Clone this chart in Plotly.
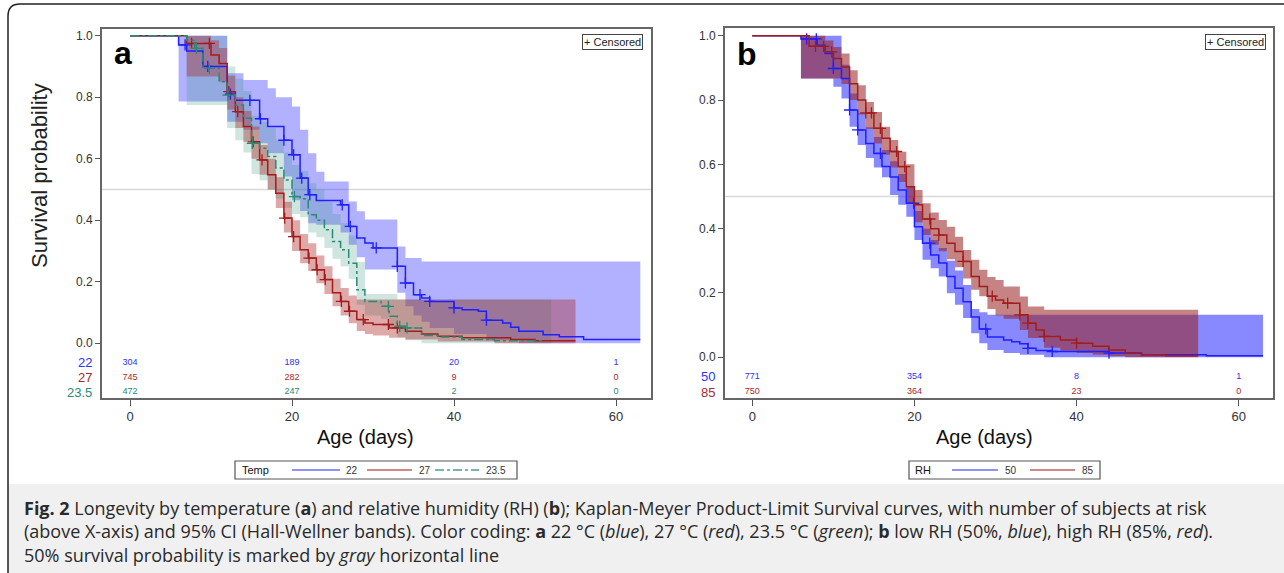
import plotly.graph_objects as go

W, H = 1284, 573

# ---------------- Panel a : temperature ----------------
temp_labels = ["22", "27", "23.5"]

days_t22 = [0, 6, 7, 9, 12, 13, 16, 17, 19, 20, 21, 22, 23, 26, 27, 28, 29, 30, 33, 34, 35, 36, 37, 40, 41, 43, 44, 46, 47, 48, 51, 53, 56, 63]
surv_t22 = [1.0, 0.97, 0.95, 0.90, 0.81, 0.79, 0.73, 0.705, 0.66, 0.613, 0.537, 0.483, 0.464, 0.45, 0.38, 0.342, 0.326, 0.31, 0.25, 0.196, 0.158, 0.147, 0.136, 0.115, 0.109, 0.104, 0.075, 0.066, 0.052, 0.039, 0.028, 0.021, 0.012, 0.012]
cens_t22 = [6.8, 9.6, 12.4, 14.8, 16.1, 19.0, 20.2, 21.2, 22.2, 26.2, 27.2, 30.4, 33.0, 34.0, 35.8, 37.0, 40.0, 44.0]
band_t22_days = [6, 12, 14, 16, 17, 18, 19, 20, 21, 22, 23, 24, 26, 27, 28, 29, 33, 34, 35, 36, 37, 40, 44, 48, 63]
band_t22_up = [1.0, 0.878, 0.856, 0.856, 0.829, 0.80, 0.80, 0.77, 0.694, 0.618, 0.558, 0.526, 0.526, 0.461, 0.429, 0.402, 0.315, 0.277, 0.277, 0.266, 0.266, 0.266, 0.266, 0.266, 0.266]
band_t22_lo = [0.786, 0.72, 0.694, 0.65, 0.618, 0.618, 0.542, 0.465, 0.43, 0.39, 0.385, 0.385, 0.36, 0.32, 0.28, 0.24, 0.164, 0.12, 0.09, 0.07, 0.05, 0.03, 0.01, 0.0, 0.0]

days_t27 = [0, 7, 10, 11, 12, 13, 14, 15, 16, 17, 18, 19, 20, 21, 22, 23, 24, 25, 26, 27, 28, 29, 30, 32, 34, 36, 38, 41, 47, 50, 55]
surv_t27 = [1.0, 0.975, 0.937, 0.91, 0.818, 0.753, 0.705, 0.655, 0.596, 0.548, 0.488, 0.407, 0.347, 0.304, 0.277, 0.239, 0.207, 0.164, 0.136, 0.104, 0.077, 0.066, 0.061, 0.05, 0.039, 0.03, 0.023, 0.018, 0.012, 0.008, 0.008]
cens_t27 = [7.6, 9.8, 12.2, 13.3, 15.2, 16.3, 19.1, 20.2, 22.1, 23.1, 24.1, 26.1, 27.1, 28.8, 31.9, 33.0]
band_t27_days = [7, 10, 11, 12, 13, 14, 15, 16, 17, 18, 19, 20, 21, 22, 23, 24, 25, 26, 27, 28, 29, 30, 32, 34, 38, 45, 55]
band_t27_up = [1.0, 0.985, 0.96, 0.87, 0.80, 0.755, 0.705, 0.645, 0.60, 0.54, 0.46, 0.40, 0.355, 0.325, 0.285, 0.25, 0.21, 0.18, 0.155, 0.142, 0.142, 0.142, 0.142, 0.142, 0.142, 0.142, 0.142]
band_t27_lo = [0.867, 0.867, 0.85, 0.76, 0.70, 0.655, 0.60, 0.548, 0.50, 0.44, 0.36, 0.30, 0.26, 0.235, 0.195, 0.16, 0.12, 0.09, 0.065, 0.04, 0.03, 0.025, 0.018, 0.012, 0.006, 0.0, 0.0]

days_t235 = [0, 7, 8, 9, 11, 12, 13, 14, 15, 16, 17, 18, 19, 20, 21, 22, 23, 24, 25, 26, 27, 28, 29, 31, 32, 33, 34, 36, 38, 41, 45, 51]
surv_t235 = [1.0, 0.985, 0.959, 0.894, 0.85, 0.807, 0.775, 0.732, 0.65, 0.634, 0.607, 0.57, 0.531, 0.477, 0.47, 0.418, 0.40, 0.369, 0.331, 0.304, 0.26, 0.174, 0.136, 0.12, 0.088, 0.055, 0.05, 0.025, 0.02, 0.012, 0.008, 0.008]
cens_t235 = [8.2, 9.8, 12.1, 15.1, 20.3, 31.9, 33.3, 34.2]
band_t235_days = [7, 12, 13, 14, 15, 16, 17, 18, 19, 20, 21, 22, 23, 24, 25, 26, 27, 28, 29, 31, 32, 33, 34, 36, 52]
band_t235_up = [1.0, 0.90, 0.86, 0.82, 0.74, 0.72, 0.70, 0.66, 0.62, 0.58, 0.56, 0.52, 0.50, 0.46, 0.42, 0.39, 0.35, 0.265, 0.16, 0.16, 0.16, 0.142, 0.142, 0.142, 0.142]
band_t235_lo = [0.775, 0.70, 0.66, 0.62, 0.55, 0.53, 0.50, 0.47, 0.44, 0.42, 0.41, 0.36, 0.345, 0.31, 0.275, 0.25, 0.21, 0.125, 0.09, 0.08, 0.05, 0.02, 0.01, 0.0, 0.0]

risk_days = [0, 20, 40, 60]
risk_t22 = [304, 189, 20, 1]
risk_t27 = [745, 282, 9, 0]
risk_t235 = [472, 247, 2, 0]

# ---------------- Panel b : relative humidity ----------------
rh_labels = ["50", "85"]

days_r50 = [0, 6, 8, 9, 10, 11, 12, 13, 14, 15, 16, 17, 18, 19, 20, 21, 22, 23, 24, 25, 26, 27, 28, 29, 31, 32, 33, 34, 35, 37, 44, 48, 56, 63]
surv_r50 = [1.0, 0.99, 0.97, 0.945, 0.898, 0.867, 0.769, 0.707, 0.665, 0.634, 0.593, 0.561, 0.52, 0.479, 0.406, 0.355, 0.318, 0.293, 0.251, 0.215, 0.173, 0.125, 0.088, 0.063, 0.054, 0.048, 0.042, 0.028, 0.021, 0.018, 0.013, 0.008, 0.005, 0.005]
cens_r50 = [6.7, 7.9, 10.0, 12.0, 13.0, 15.8, 19.9, 21.9, 28.8, 34.0, 37.0, 44.0]
band_r50_days = [6, 10, 11, 12, 13, 14, 15, 16, 17, 18, 19, 20, 21, 22, 23, 24, 25, 26, 27, 28, 29, 31, 33, 36, 63]
band_r50_up = [1.0, 1.0, 0.91, 0.82, 0.76, 0.715, 0.685, 0.645, 0.61, 0.57, 0.53, 0.455, 0.40, 0.365, 0.34, 0.30, 0.27, 0.225, 0.15, 0.14, 0.132, 0.132, 0.132, 0.132, 0.132]
band_r50_lo = [0.867, 0.841, 0.805, 0.717, 0.66, 0.62, 0.59, 0.56, 0.505, 0.474, 0.437, 0.365, 0.303, 0.277, 0.251, 0.199, 0.163, 0.122, 0.075, 0.044, 0.023, 0.013, 0.008, 0.0, 0.0]

days_r85 = [0, 7, 9, 10, 11, 12, 13, 14, 15, 16, 17, 18, 19, 20, 21, 22, 23, 24, 25, 26, 27, 28, 29, 30, 31, 33, 34, 35, 36, 38, 40, 42, 44, 46, 48, 51, 55]
surv_r85 = [1.0, 0.967, 0.95, 0.929, 0.903, 0.851, 0.80, 0.76, 0.712, 0.681, 0.64, 0.593, 0.53, 0.474, 0.43, 0.40, 0.38, 0.355, 0.329, 0.298, 0.251, 0.22, 0.19, 0.178, 0.168, 0.132, 0.106, 0.085, 0.065, 0.054, 0.044, 0.034, 0.023, 0.013, 0.008, 0.005, 0.005]
cens_r85 = [7.8, 8.8, 9.8, 14.0, 14.7, 15.8, 17.8, 18.8, 21.9, 23.0, 26.0, 29.6, 31.5, 33.0, 34.0, 36.0, 40.0]
band_r85_days = [6, 9, 10, 11, 12, 13, 14, 15, 16, 17, 18, 19, 20, 21, 22, 23, 24, 25, 26, 27, 28, 29, 30, 31, 33, 34, 36, 38, 40, 42, 44, 46, 55]
band_r85_up = [1.0, 0.985, 0.965, 0.945, 0.893, 0.846, 0.794, 0.763, 0.717, 0.676, 0.639, 0.60, 0.52, 0.479, 0.45, 0.427, 0.406, 0.375, 0.334, 0.303, 0.272, 0.25, 0.24, 0.22, 0.189, 0.158, 0.1475, 0.1475, 0.1475, 0.1475, 0.1475, 0.1475, 0.1475]
band_r85_lo = [0.867, 0.867, 0.867, 0.85, 0.80, 0.755, 0.71, 0.665, 0.63, 0.59, 0.545, 0.48, 0.42, 0.38, 0.35, 0.33, 0.305, 0.28, 0.245, 0.21, 0.19, 0.15, 0.13, 0.12, 0.085, 0.06, 0.03, 0.02, 0.013, 0.008, 0.004, 0.0, 0.0]

risk_r50 = [771, 354, 8, 1]
risk_r85 = [750, 364, 23, 0]

# ---------------- styling ----------------
BLUE = "#1f1fff"
RED = "#a31c1c"
GREEN = "#2a8a72"
TXT = "#333333"


def px_x(p):
    return p / W


def px_y(p):
    return 1 - p / H


def value_at(times, vals, t):
    v = vals[0]
    for ti, vi in zip(times, vals):
        if ti <= t:
            v = vi
        else:
            break
    return v


fig = go.Figure()


def add_band(days, lo, up, color, xa, ya):
    fig.add_trace(go.Scatter(x=days, y=lo, mode="lines", line=dict(width=0, shape="hv"),
                             showlegend=False, hoverinfo="skip", xaxis=xa, yaxis=ya))
    fig.add_trace(go.Scatter(x=days, y=up, mode="lines", line=dict(width=0, shape="hv"),
                             fill="tonexty", fillcolor=color, showlegend=False,
                             hoverinfo="skip", xaxis=xa, yaxis=ya))


def add_curve(days, surv, cens, color, name, dash, xa, ya):
    fig.add_trace(go.Scatter(x=days, y=surv, mode="lines",
                             line=dict(color=color, width=1.5, shape="hv", dash=dash),
                             name=name, showlegend=False, xaxis=xa, yaxis=ya))
    fig.add_trace(go.Scatter(x=cens, y=[value_at(days, surv, c) for c in cens], mode="markers",
                             marker=dict(symbol="cross-thin", size=8, line=dict(color=color, width=1.3)),
                             showlegend=False, hoverinfo="skip", xaxis=xa, yaxis=ya))


def add_risk(counts, yrow, color, xa, ya):
    fig.add_trace(go.Scatter(x=risk_days, y=[yrow] * len(counts), mode="text",
                             text=[str(c) for c in counts],
                             textfont=dict(size=9, color=color, family="Liberation Sans"),
                             showlegend=False, hoverinfo="skip", xaxis=xa, yaxis=ya))


# panel a bands
add_band(band_t22_days, band_t22_lo, band_t22_up, "rgba(60,60,255,0.40)", "x", "y")
add_band(band_t235_days, band_t235_lo, band_t235_up, "rgba(60,150,130,0.25)", "x", "y")
add_band(band_t27_days, band_t27_lo, band_t27_up, "rgba(170,40,40,0.40)", "x", "y")
# panel a curves
add_curve(days_t22, surv_t22, cens_t22, BLUE, temp_labels[0], "solid", "x", "y")
add_curve(days_t27, surv_t27, cens_t27, RED, temp_labels[1], "solid", "x", "y")
add_curve(days_t235, surv_t235, cens_t235, GREEN, temp_labels[2], "dashdot", "x", "y")
# risk rows a
ROWS_A = [-0.063, -0.112, -0.159]
add_risk(risk_t22, ROWS_A[0], "#3030ff", "x", "y")
add_risk(risk_t27, ROWS_A[1], "#a52a2a", "x", "y")
add_risk(risk_t235, ROWS_A[2], "#2a8a72", "x", "y")

# panel b bands
add_band(band_r50_days, band_r50_lo, band_r50_up, "rgba(40,40,255,0.55)", "x2", "y2")
add_band(band_r85_days, band_r85_lo, band_r85_up, "rgba(150,30,30,0.55)", "x2", "y2")
add_curve(days_r50, surv_r50, cens_r50, BLUE, rh_labels[0], "solid", "x2", "y2")
add_curve(days_r85, surv_r85, cens_r85, RED, rh_labels[1], "solid", "x2", "y2")
ROWS_B = [-0.061, -0.108]
add_risk(risk_r50, ROWS_B[0], "#3030ff", "x2", "y2")
add_risk(risk_r85, ROWS_B[1], "#a52a2a", "x2", "y2")

axis_common = dict(showgrid=False, zeroline=False, showline=True, linecolor="#666666",
                   linewidth=1.6, mirror=True, ticks="outside", tickcolor="#555555")

fig.update_layout(
    width=W, height=H, autosize=False, showlegend=False,
    margin=dict(l=0, r=0, t=0, b=0, pad=0),
    paper_bgcolor="white", plot_bgcolor="white",
    font=dict(family="Liberation Sans, Arial, sans-serif", color=TXT),
    xaxis=dict(domain=[px_x(102), px_x(651)], range=[-3.457, 64.32], tickvals=[0, 20, 40, 60],
               ticklen=6, tickfont=dict(size=13, color=TXT), anchor="y", **axis_common),
    yaxis=dict(domain=[px_y(398), px_y(29)], range=[-0.178, 1.0218], tickvals=[0, 0.2, 0.4, 0.6, 0.8, 1.0],
               tickformat=".1f", ticklen=5, tickfont=dict(size=12, color=TXT), anchor="x", **axis_common),
    xaxis2=dict(domain=[px_x(725), px_x(1273)], range=[-3.368, 64.23], tickvals=[0, 20, 40, 60],
                ticklen=6, tickfont=dict(size=13, color=TXT), anchor="y2", **axis_common),
    yaxis2=dict(domain=[px_y(398), px_y(28)], range=[-0.1266, 1.024], tickvals=[0, 0.2, 0.4, 0.6, 0.8, 1.0],
                tickformat=".1f", ticklen=5, tickfont=dict(size=12, color=TXT), anchor="x2", **axis_common),
)

shapes = []
# 50% survival reference lines
for xr, yr in (("x domain", "y"), ("x2 domain", "y2")):
    shapes.append(dict(type="line", xref=xr, yref=yr, x0=0, x1=1, y0=0.5, y1=0.5,
                       line=dict(color="#d9d9d9", width=1.5), layer="below"))
# caption background
shapes.append(dict(type="rect", xref="paper", yref="paper", x0=px_x(8), x1=1.0, y0=0, y1=px_y(484),
                   fillcolor="#f0f0f0", line=dict(width=0), layer="below"))
# outer frame
path = (f"M {px_x(8)},{px_y(573)} L {px_x(8)},{px_y(16)} "
        f"Q {px_x(8)},{px_y(4)} {px_x(20)},{px_y(4)} L {px_x(1290)},{px_y(4)}")
shapes.append(dict(type="path", xref="paper", yref="paper", path=path,
                   line=dict(color="#222222", width=1.5)))


def pann(text, cx, cy, **kw):
    d = dict(text=text, x=px_x(cx), y=px_y(cy), xref="paper", yref="paper",
             xanchor="center", yanchor="middle", showarrow=False)
    d.update(kw)
    return d


ann = []

# ---- legends (boxed key under each panel) ----
LEG_Y = 470
legend_specs = [
    ("Temp", 235, 517, 240,
     [(temp_labels[0], "#6b6bff", "solid", 292, 340, 344),
      (temp_labels[1], "#c06060", "solid", 367, 412, 417),
      (temp_labels[2], "#4f9e8a", "dashdot", 435, 479, 484)]),
    ("RH", 909, 1100, 913,
     [(rh_labels[0], "#6b6bff", "solid", 952, 998, 1003),
      (rh_labels[1], "#c06060", "solid", 1030, 1075, 1080)]),
]
for title, bx0, bx1, tx, items in legend_specs:
    shapes.append(dict(type="rect", xref="paper", yref="paper",
                       x0=px_x(bx0), x1=px_x(bx1), y0=px_y(LEG_Y + 9), y1=px_y(LEG_Y - 9),
                       fillcolor="white", line=dict(color="#555555", width=1.2)))
    ann.append(pann(title, tx, LEG_Y, xanchor="left", font=dict(size=11, color="#111")))
    for lab, col, dash, lx0, lx1, lab_x in items:
        shapes.append(dict(type="line", xref="paper", yref="paper", x0=px_x(lx0), x1=px_x(lx1),
                           y0=px_y(LEG_Y), y1=px_y(LEG_Y), line=dict(color=col, width=1.6, dash=dash)))
        ann.append(pann(lab, lab_x, LEG_Y, xanchor="left", font=dict(size=10, color="#333")))

fig.update_layout(shapes=shapes)

ann.append(pann("Survival probability", 40, 176, textangle=-90, font=dict(size=22, color="#222")))
for cx in (366, 985):
    ann.append(pann("Age (days)", cx, 437, font=dict(size=20, color="#111")))
ann.append(pann("<b>a</b>", 123, 53, font=dict(size=32, color="black")))
ann.append(pann("<b>b</b>", 747, 54, font=dict(size=32, color="black")))
for cx in (612, 1235):
    ann.append(pann("+ Censored", cx, 42, font=dict(size=11, color="#222"), bordercolor="#444",
                    borderwidth=1, borderpad=1, bgcolor="white"))
# at-risk row labels
for lab, yrow, col in zip(temp_labels, ROWS_A, ["#3030ff", "#a52a2a", "#2a8a72"]):
    ann.append(dict(text=lab, x=0, xref="x domain", xanchor="right", xshift=-8, y=yrow, yref="y",
                    yanchor="middle", showarrow=False, font=dict(size=13, color=col)))
for lab, yrow, col in zip(rh_labels, ROWS_B, ["#3030ff", "#a52a2a"]):
    ann.append(dict(text=lab, x=0, xref="x2 domain", xanchor="right", xshift=-8, y=yrow, yref="y2",
                    yanchor="middle", showarrow=False, font=dict(size=13, color=col)))
# caption (one block, three lines)
cap_font = dict(family="Open Sans, Noto Sans, sans-serif", size=18, color="#2a2a2a")
cap_lines = [
    "<b>Fig. 2</b> Longevity by temperature (<b>a</b>) and relative humidity (RH) (<b>b</b>); Kaplan-Meyer Product-Limit Survival curves, with number of subjects at risk",
    "(above X-axis) and 95% CI (Hall-Wellner bands). Color coding: <b>a</b> 22 °C (<i>blue</i>), 27 °C (<i>red</i>), 23.5 °C (<i>green</i>); <b>b</b> low RH (50%, <i>blue</i>), high RH (85%, <i>red</i>).",
    "50% survival probability is marked by <i>gray</i> horizontal line",
]
ann.append(pann("<br>".join(cap_lines), 22, 494, xanchor="left", yanchor="top", align="left", font=cap_font))
fig.update_layout(annotations=ann)

fig.write_html("out.html", config={"displayModeBar": False},
               post_script="document.body.style.margin='0';document.body.style.overflow='hidden';")
